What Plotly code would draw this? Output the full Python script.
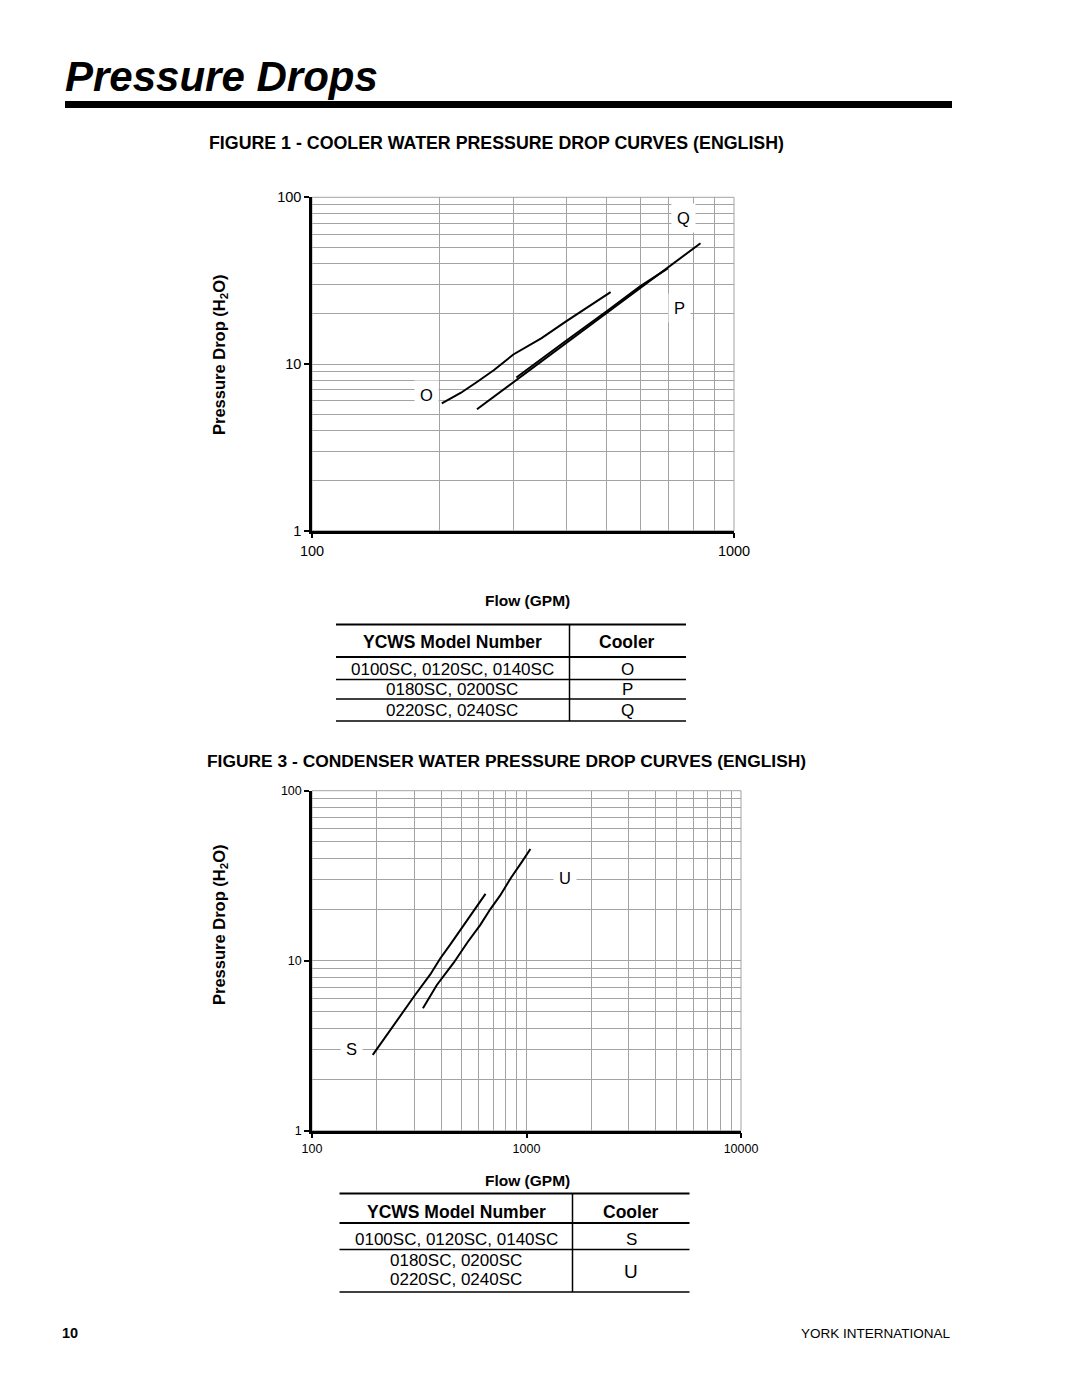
import plotly.graph_objects as go

# ---- data ----
# Figure 1 - cooler water pressure drop (flow GPM, pressure drop ft H2O)
o_flow = [203, 225, 246, 270, 300, 350, 400, 450, 510]
o_dp = [5.8, 6.7, 7.8, 9.2, 11.4, 14.3, 18.0, 21.8, 27.0]
p_flow = [305, 340, 400, 500, 600, 697]
p_dp = [8.3, 10.2, 13.8, 20.8, 29.3, 37.5]
q_flow = [246, 275, 300, 350, 400, 450, 500, 550, 600, 650, 700, 760, 833]
q_dp = [5.35, 6.6, 7.8, 10.4, 13.3, 16.6, 20.3, 24.3, 28.6, 33.2, 38.2, 44.5, 53.0]

# Figure 3 - condenser water pressure drop
s_flow = [192, 225, 258, 300, 356, 396, 440, 491, 560, 644]
s_dp = [2.79, 3.7, 4.8, 6.2, 8.3, 10.3, 12.4, 15.2, 19.1, 24.7]
u_flow = [329, 382, 457, 530, 608, 680, 754, 850, 950, 1043]
u_dp = [5.25, 7.2, 9.7, 12.8, 16.2, 20.2, 24.2, 31.0, 38.0, 45.4]

# tables
t1_models = ["0100SC, 0120SC, 0140SC", "0180SC, 0200SC", "0220SC, 0240SC"]
t1_coolers = ["O", "P", "Q"]
t2_models = ["0100SC, 0120SC, 0140SC", "0180SC, 0200SC", "0220SC, 0240SC"]
t2_coolers = ["S", "U"]

W, H = 1080, 1397
OFF = 8  # page body margin
FONT = "Arial, 'Liberation Sans', sans-serif"
GRID = "#a3a3a3"


def px(x):
    return (x - OFF) / W


def py(y):
    return 1 - (y - OFF) / H


fig = go.Figure()

line = dict(color="black", width=2)
for fx, fy, ax in [(o_flow, o_dp, 1), (p_flow, p_dp, 1), (q_flow, q_dp, 1),
                   (s_flow, s_dp, 2), (u_flow, u_dp, 2)]:
    fig.add_trace(go.Scatter(x=fx, y=fy, mode="lines", line=line,
                             xaxis="x" if ax == 1 else "x2",
                             yaxis="y" if ax == 1 else "y2",
                             hoverinfo="skip"))


def log_axis(domain, rng, major, labels, minor, size, anchor):
    return dict(type="log", range=rng, domain=domain, anchor=anchor,
                tickmode="array", tickvals=major, ticktext=labels,
                ticks="outside", ticklen=5, tickwidth=1.5, tickcolor="black",
                showline=True, linecolor="black", linewidth=2.5,
                showgrid=True, gridcolor=GRID, gridwidth=1, zeroline=False,
                minor=dict(tickmode="array", tickvals=minor, showgrid=True,
                           gridcolor=GRID, gridwidth=1, ticks=""),
                tickfont=dict(size=size, color="black", family=FONT),
                fixedrange=True)


minor_x1 = [200, 300, 400, 500, 600, 700, 800, 900]
minor_y = [2, 3, 4, 5, 6, 7, 8, 9, 20, 30, 40, 50, 60, 70, 80, 90]
minor_x2 = [200, 300, 400, 500, 600, 700, 800, 900,
            2000, 3000, 4000, 5000, 6000, 7000, 8000, 9000]

fig.update_layout(
    xaxis=log_axis([px(312), px(734)], [2, 3], [100, 1000], ["100", "1000"],
                   minor_x1, 14.5, "y"),
    yaxis=log_axis([py(530.7), py(197.3)], [0, 2], [1, 10, 100], ["1", "10", "100"],
                   minor_y, 14.5, "x"),
    xaxis2=log_axis([px(312), px(741)], [2, 4], [100, 1000, 10000],
                    ["100", "1000", "10000"], minor_x2, 12.5, "y2"),
    yaxis2=log_axis([py(1130.7), py(790.7)], [0, 2], [1, 10, 100], ["1", "10", "100"],
                    minor_y, 12.5, "x2"),
)

shapes = []
ann = []


def note(t, x, y, size=17, **kw):
    a = dict(text=t, xref="paper", yref="paper", x=px(x), y=py(y), showarrow=False,
             xanchor="center", yanchor="middle",
             font=dict(size=size, family=FONT, color="black"))
    a.update(kw)
    ann.append(a)


# frames of the two plots (top / right edges are grey)
for xr, yr in [("x domain", "y domain"), ("x2 domain", "y2 domain")]:
    shapes.append(dict(type="rect", xref=xr, yref=yr, x0=0, x1=1, y0=0, y1=1,
                       line=dict(color=GRID, width=1), layer="below"))

# page heading and rule
note("<b><i>Pressure Drops</i></b>", 63, 76, size=42, xanchor="left")
shapes.append(dict(type="rect", xref="paper", yref="paper", x0=px(65), x1=px(952),
                   y0=py(108), y1=py(101), fillcolor="black", line=dict(width=0)))

# figure captions
note("<b>FIGURE 1 - COOLER WATER PRESSURE DROP CURVES (ENGLISH)</b>", 496, 143,
     size=17.8)
note("<b>FIGURE 3 - CONDENSER WATER PRESSURE DROP CURVES (ENGLISH)</b>", 506, 761,
     size=17.4)

# axis titles
for yc in [355, 925]:
    note("<b>Pressure Drop (H<sub>2</sub>O)</b>", 220, yc, size=16.5, textangle=-90)
for yc in [600, 1180]:
    note("<b>Flow (GPM)</b>", 527, yc, size=15.5)

# curve labels on white boxes
labels = [("Q", "x domain", "y domain", 0.880, 0.938),
          ("P", "x domain", "y domain", 0.871, 0.668),
          ("O", "x domain", "y domain", 0.271, 0.407),
          ("U", "x2 domain", "y2 domain", 0.590, 0.743),
          ("S", "x2 domain", "y2 domain", 0.0915, 0.240)]
for t, xr, yr, xv, yv in labels:
    ann.append(dict(text=t, xref=xr, yref=yr, x=xv, y=yv, showarrow=False,
                    xanchor="center", yanchor="middle",
                    bgcolor="white", borderpad=5,
                    font=dict(size=16.5, family=FONT, color="black")))


# tables
def hline(x0, x1, y, w=1.5):
    shapes.append(dict(type="line", xref="paper", yref="paper", x0=px(x0), x1=px(x1),
                       y0=py(y), y1=py(y), line=dict(color="black", width=w)))


def vline(x, y0, y1):
    shapes.append(dict(type="line", xref="paper", yref="paper", x0=px(x), x1=px(x),
                       y0=py(y0), y1=py(y1), line=dict(color="black", width=1.5)))


# table 1
for yl in [624.5, 657, 679.5, 699, 721]:
    hline(336, 686, yl, 2 if yl in (624.5, 657) else 1.5)
vline(569.5, 624.5, 721)
note("<b>YCWS Model Number</b>", 452, 642, size=17.5)
note("<b>Cooler</b>", 627, 642, size=17.5)
for yc, m, c in zip([669.5, 689.5, 710], t1_models, t1_coolers):
    note(m, 452, yc)
    note(c, 627, yc)

# table 2
for yl in [1193.5, 1223, 1249.5, 1292]:
    hline(339.5, 689.5, yl, 2 if yl in (1193.5, 1223) else 1.5)
vline(572.5, 1193.5, 1292)
note("<b>YCWS Model Number</b>", 456, 1211.5, size=17.5)
note("<b>Cooler</b>", 631, 1211.5, size=17.5)
for yc, m in zip([1239, 1260, 1279], t2_models):
    note(m, 456, yc)
note(t2_coolers[0], 631, 1239)
note(t2_coolers[1], 631, 1271, size=19)

# footer
note("<b>10</b>", 60, 1333, size=14.5, xanchor="left")
note("YORK INTERNATIONAL", 953, 1333, size=13.5, xanchor="right")

fig.update_layout(width=W, height=H,
                  margin=dict(l=0, r=0, t=0, b=0, autoexpand=False),
                  paper_bgcolor="white", plot_bgcolor="white", showlegend=False,
                  font=dict(family=FONT, color="black"),
                  shapes=shapes, annotations=ann)

fig.write_html("out.html")
